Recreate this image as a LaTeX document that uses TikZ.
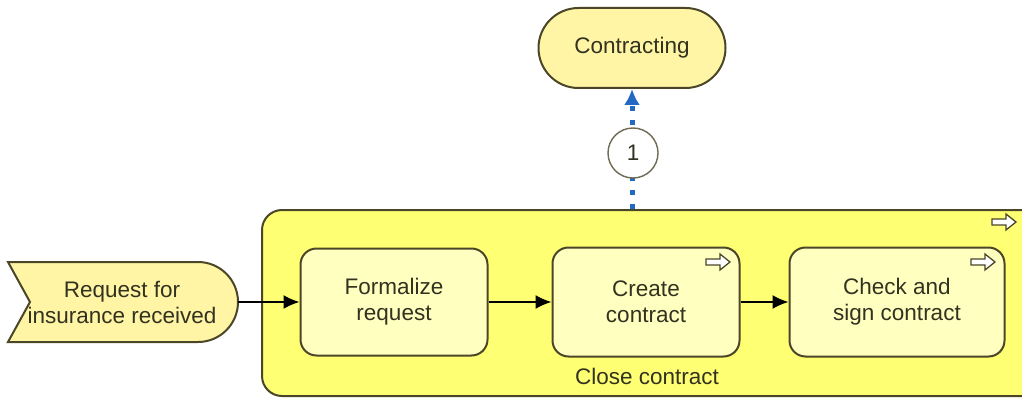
\documentclass[tikz,border=0pt]{standalone}
\usepackage{fontspec}
\setmainfont{Liberation Sans}
\usetikzlibrary{arrows.meta}
\definecolor{bigfill}{RGB}{255,255,115}
\definecolor{innerfill}{RGB}{255,255,192}
\definecolor{palefill}{RGB}{255,245,165}
\definecolor{edge}{RGB}{75,70,40}
\definecolor{txt}{RGB}{50,50,32}
\definecolor{msgblue}{RGB}{35,105,195}
\tikzset{
  every node/.style={font=\fontsize{22.5}{26}\selectfont, text=txt, align=center},
  bigbox/.style={draw=edge, line width=2pt, fill=bigfill, rounded corners=20pt, inner sep=0pt},
  taskbox/.style={draw=edge, line width=2pt, fill=innerfill, rounded corners=16pt, inner sep=0pt},
  stadium/.style={draw=edge, line width=2pt, fill=palefill, rounded corners=40pt, inner sep=0pt},
  flow/.style={draw=black, line width=1.6pt, -{Latex[length=16pt,width=14pt]}},
  msg/.style={draw=msgblue, line width=5pt, dash pattern=on 5pt off 9pt, -{Latex[length=16pt,width=16pt]}},
  flowarrow/.pic={\draw[edge, line width=1.3pt, fill=white, line join=miter]
     (-12,-3) -- (2,-3) -- (2,-8) -- (12,0) -- (2,8) -- (2,3) -- (-12,3) -- cycle;}
}
\begin{document}
\begin{tikzpicture}[x=1pt,y=-1pt]
\useasboundingbox (0,0) rectangle (1022,401);
\fill[white] (0,0) rectangle (1022,401);
\clip (0,0) rectangle (1022,401);

% container
\node[bigbox, minimum width=800pt, minimum height=186pt] (close) at (662,303) {};
\node (closelbl) at (647,376) {Close contract};
\pic at (1004,222) {flowarrow};

% tasks
\node[taskbox, minimum width=187pt, minimum height=107pt] (formal) at (394,302) {Formalize\\request};
\node[taskbox, minimum width=187pt, minimum height=109pt] (create) at (646,302) {Create\\contract};
\pic at (718,262) {flowarrow};
\node[taskbox, minimum width=215pt, minimum height=109pt] (check) at (897,302) {Check and\\sign contract};
\pic at (983,262) {flowarrow};

% start event
\draw[edge, line width=2pt, fill=palefill]
  (8,262) -- (198,262) arc[start angle=-90, end angle=90, radius=40] -- (8,342) -- (30,302) -- cycle;
\node (event) at (122,302) {Request for\\insurance received};
\coordinate (evout) at (238,302);

% contracting
\node[stadium, minimum width=187pt, minimum height=80pt] (contr) at (632,48) {Contracting};

% flows
\draw[flow] (evout) -- (formal.west);
\draw[flow] (formal.east) -- (create.west);
\draw[flow] (create.east) -- (check.west);

% message connector
\coordinate (msgstart) at (close.north -| contr.south);
\draw[msg] (msgstart) -- (contr.south);
\node[circle, draw=edge!80, line width=1.4pt, fill=white, minimum size=50pt, inner sep=0pt] (num) at (633,153) {1};
\end{tikzpicture}
\end{document}
